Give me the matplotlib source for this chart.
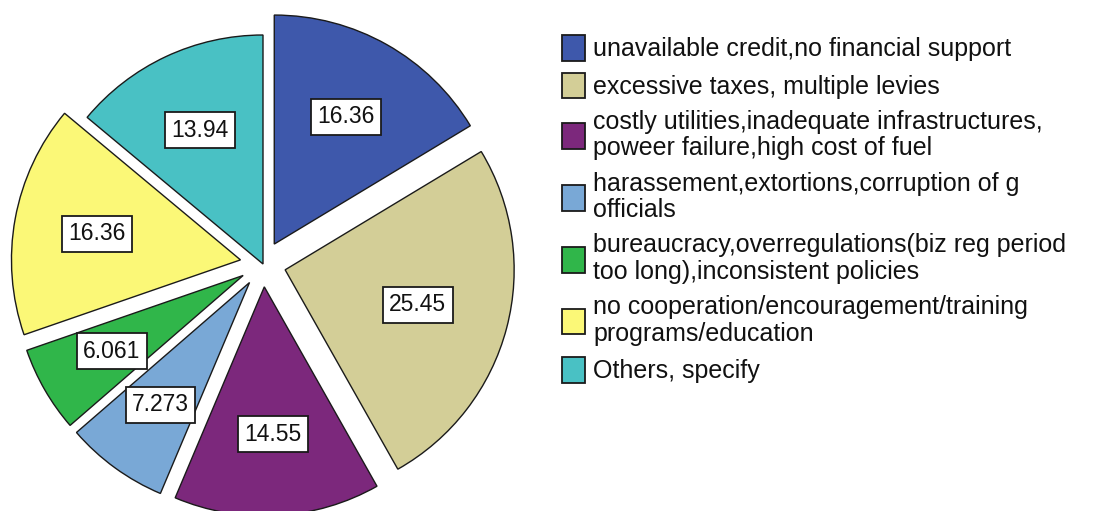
import matplotlib
matplotlib.use("Agg")
import matplotlib.pyplot as plt
import numpy as np

plt.rcParams['font.family'] = ['Liberation Sans', 'DejaVu Sans']

# constraint categories (share of respondents, %)
categories = [
    "unavailable credit,no financial support",
    "excessive taxes, multiple levies",
    "costly utilities,inadequate infrastructures,\npoweer failure,high cost of fuel",
    "harassement,extortions,corruption of g\nofficials",
    "bureaucracy,overregulations(biz reg period\ntoo long),inconsistent policies",
    "no cooperation/encouragement/training\nprograms/education",
    "Others, specify",
]
values = [16.36, 25.45, 14.55, 7.273, 6.061, 16.36, 13.94]
colors = ["#3e58ab", "#d3ce97", "#7c287c", "#79a8d6", "#30b64a", "#fbf877", "#49c1c4"]
explode = [0.1, 0.1, 0.1, 0.1, 0.1, 0.1, 0.0]

fig = plt.figure(figsize=(11.12, 5.11), dpi=100)

# pie axes: unit radius = 229 px, centre at (263, 264) px from top-left
r_px = 229.0
ax = fig.add_axes([0, 0, 530 / 1112, 1])
wedges, _, autotexts = ax.pie(
    values, colors=colors, explode=explode, startangle=90, counterclock=False,
    autopct="%.1f", pctdistance=0.65,
    wedgeprops=dict(edgecolor="#1a1a1a", linewidth=1.0),
)
for w, t, v in zip(wedges, autotexts, values):
    # put each value label on the wedge centroid
    half = np.deg2rad(w.theta2 - w.theta1) / 2
    mid = np.deg2rad(w.theta1 + w.theta2) / 2
    rc = 2 * w.r * np.sin(half) / (3 * half)
    cx, cy = w.center
    t.set_position((cx + rc * np.cos(mid), cy + rc * np.sin(mid)))
    t.set_text(f"{v:.4g}")
    t.set_fontsize(16.5)
    t.set_color("#111111")
    t.set_bbox(dict(boxstyle="square,pad=0.28", facecolor="white",
                    edgecolor="#1a1a1a", linewidth=1.3))
ax.set_aspect("auto")
ax.set_xlim(-263 / r_px, (530 - 263) / r_px)
ax.set_ylim(-(511 - 264) / r_px, 264 / r_px)
ax.axis("off")

leg = fig.legend(
    wedges, categories, loc="upper left",
    bbox_to_anchor=(562 / 1112, 1 - 35 / 511), bbox_transform=fig.transFigure,
    frameon=False, fontsize=18, borderpad=0, borderaxespad=0,
    handlelength=0.92, handleheight=1.2, handletextpad=0.32, labelspacing=0.45,
)
for p in leg.get_patches():
    p.set_edgecolor("#1a1a1a")
    p.set_linewidth(1.3)
for t in leg.get_texts():
    t.set_linespacing(1.13)
    t.set_color("#111111")

fig.savefig("out.png", dpi=100)
